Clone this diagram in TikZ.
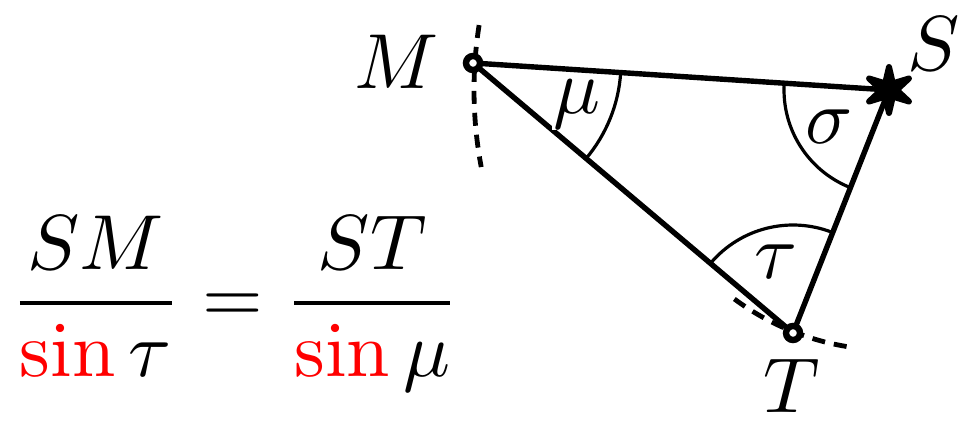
\documentclass[tikz,border=0pt]{standalone}
\usepackage{graphicx}
\usepackage{amsmath}
\usepackage{xcolor}
\usetikzlibrary{shapes.geometric}
\newcommand{\zoomed}[1]{\scalebox{7.8}{#1}}
\newcommand{\ratio}[2]{\genfrac{}{}{0.55pt}{0}{#1}{#2}}
\begin{document}
\begin{tikzpicture}[x=1pt,y=-1pt,
  every node/.style={font=\fontsize{10}{12}\selectfont, inner sep=1pt},
  side/.style={line width=5.4pt},
  anglearc/.style={line width=3.2pt},
  dasharc/.style={line width=4.8pt, dash pattern=on 13pt off 9pt},
  station/.style={circle, draw, fill=white, line width=6.4pt, minimum size=14pt, inner sep=0pt},
  anglelabel/.style={fill=white, inner sep=2pt},
  starmark/.style={star, star points=6, star point ratio=3, minimum size=46pt, inner sep=0pt, fill=black, draw=black, line width=6pt, line join=round}
]
\useasboundingbox (0,0) rectangle (973,425);
\coordinate (Mc) at (473,63);
\coordinate (Sc) at (889,90);
\coordinate (Tc) at (793,333);
% dashed arcs centred at S
\draw[dasharc] (Sc) ++(189:415) arc[start angle=189, end angle=169.3, radius=415];
\draw[dasharc] (Sc) ++(126.5:260) arc[start angle=126.5, end angle=98.5, radius=260];
% sides
\draw[side] (Mc) -- (Sc);
\draw[side] (Sc) -- (Tc);
\draw[side] (Tc) -- (Mc);
% angle arcs
\draw[anglearc] (Mc) ++(3.74:148) arc[start angle=3.74, end angle=40.3, radius=148];
\draw[anglearc] (Sc) ++(183.74:105) arc[start angle=183.74, end angle=111.35, radius=105];
\draw[anglearc] (Tc) ++(-68.65:108) arc[start angle=-68.65, end angle=-139.7, radius=108];
% angle labels
\node[anglelabel] (mu) at (577,104) {\zoomed{$\mu$}};
\node[anglelabel] (sigma) at (829,127) {\zoomed{$\sigma$}};
\node[anglelabel] (tau) at (776,262) {\zoomed{$\tau$}};
% stations
\node[station] (M) at (Mc) {};
\node[station] (T) at (Tc) {};
\node[starmark] (S) at (Sc) {};
% vertex labels
\node (Ml) at (397,62) {\zoomed{$M$}};
\node (Sl) at (934,44) {\zoomed{$S$}};
\node (Tl) at (792,386) {\zoomed{$T$}};
% formula
\node (law) at (235,304) {\zoomed{$\ratio{SM}{{\color{red}\sin}\,\tau}=\ratio{ST}{{\color{red}\sin}\,\mu}$}};
\end{tikzpicture}
\end{document}
